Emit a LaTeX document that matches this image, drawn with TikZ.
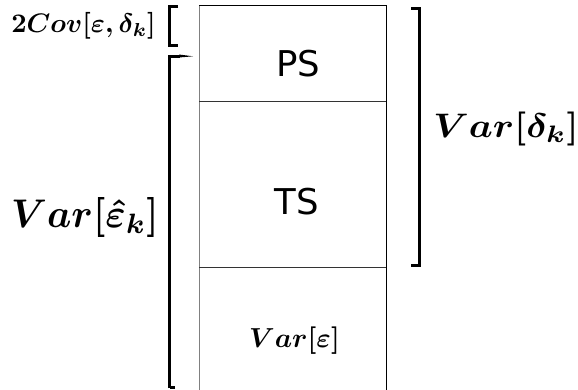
\documentclass[tikz,border=0pt]{standalone}
\usepackage{graphicx}
\usepackage{fontspec}
\newfontfamily\dvs{DejaVu Sans}
\newcommand{\mathlab}[3]{\scalebox{#1}[#2]{\boldmath$#3$}}
\begin{document}
\begin{tikzpicture}[x=1pt,y=-1pt,
  brk/.style={line width=3pt},
  mathlbl/.style={inner sep=0pt, anchor=base},
  cellname/.style={inner sep=0pt, anchor=base, font=\fontsize{35.5}{40}\selectfont\dvs},
  edge/.style={line width=1pt}]
\useasboundingbox (0,0) rectangle (578,389);
% box
\coordinate (tl) at (199,5.5);
\coordinate (tr) at (386,5.5);
\coordinate (bl) at (199,395);
\coordinate (br) at (386,395);
\coordinate (d1l) at (199,101);
\coordinate (d1r) at (386,101);
\coordinate (d2l) at (199,267);
\coordinate (d2r) at (386,267);
\draw[edge] (tl) -- (tr) -- (br);
\draw[edge, gray] (tl) -- (bl);
\draw[edge, black!80] (d1l) -- (d1r);
\draw[edge, black!80] (d2l) -- (d2r);
% cell texts
\node[cellname] (ps) at (298,76) {PS};
\node[cellname] (ts) at (297,214) {TS};
\node[mathlbl] (ve) at (294.5,347) {\mathlab{2.75}{2.75}{Var[\varepsilon]}};
% brackets
\draw[brk] (178,6) -- (169.5,6) -- (169.5,45.5) -- (178,45.5);
\draw[brk] (169.5,388) -- (169.5,56) -- (180,56);
\fill (179,54.5) -- (193,56.3) -- (179,57.5) -- cycle;
\draw[brk] (175,387.5) -- (169.5,387.5);
\draw[brk] (411,8) -- (419,8) -- (419,265) -- (411,265);
% labels
\node[mathlbl] (cov) at (83.5,32) {\mathlab{2.68}{2.68}{2Cov[\varepsilon,\delta_k]}};
\node[mathlbl] (vek) at (85,227) {\mathlab{3.85}{4.0}{Var[\hat{\varepsilon}_k]}};
\node[mathlbl] (vdk) at (506,137) {\mathlab{3.8}{3.4}{Var[\delta_k]}};
\end{tikzpicture}
\end{document}
